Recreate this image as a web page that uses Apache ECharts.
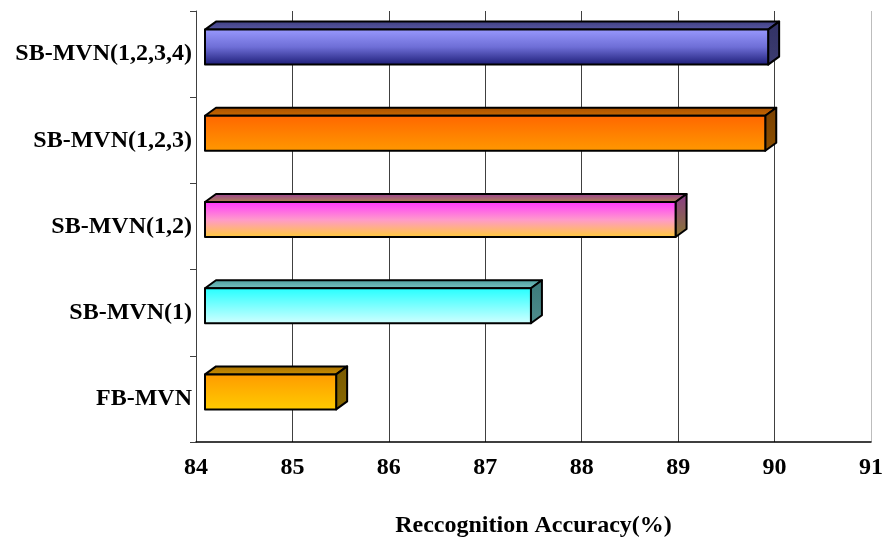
<!DOCTYPE html>
<html>
<head>
<meta charset="utf-8">
<style>
  html, body { margin: 0; padding: 0; background: #ffffff; }
  #chart { width: 886px; height: 543px; }
</style>
<script src="https://cdn.jsdelivr.net/npm/echarts@6/dist/echarts.min.js"></script>
</head>
<body>
<div id="chart"></div>
<script>
// Methods, listed from bottom to top of the chart
const categories = ['FB-MVN', 'SB-MVN(1)', 'SB-MVN(1,2)', 'SB-MVN(1,2,3)', 'SB-MVN(1,2,3,4)'];
// Recognition accuracy (%) for each method
const accuracy = [85.36, 87.38, 88.88, 89.81, 89.84];
// Value axis range and ticks
const axisMin = 84;
const axisMax = 91;
const axisStep = 1;

// Shading for each box: front face gradient, top face, side face
const palettes = [
  { front: ['#ff9a00', '#ffcc00'], top: ['#a87000', '#cc8f00'], side: ['#7a5a00', '#8a6a00'] },
  { front: ['#22ffff', '#d4ffff'], top: ['#4a9c9c', '#7cc4c4'], side: ['#3a7a7a', '#4f8c8c'] },
  { front: ['#ff33ff', '#ff99cc', '#ffcc33'], top: ['#9a3a9a', '#b08a4a'], side: ['#8a3a8a', '#8a7a30'] },
  { front: ['#ff6600', '#ff9900'], top: ['#a85000', '#c86a00'], side: ['#7a4000', '#8c5000'] },
  { front: ['#9a9aff', '#6e6ed6', '#1a1a74'], top: ['#3e3e80', '#5a5aa6'], side: ['#323266', '#3c3c70'] }
];

function grad(colors) {
  const stops = colors.map((c, i) => ({ offset: colors.length === 1 ? 0 : i / (colors.length - 1), color: c }));
  return new echarts.graphic.LinearGradient(0, 0, 0, 1, stops);
}

// 3D projection of the boxes
const SHIFT_X = 9;     // front face offset from the wall
const RAISE = 7;       // front face raised above the band centre
const HALF_H = 17.5;   // half height of the front face
const DEPTH_X = 11;
const DEPTH_Y = -8;

function renderBox(params, api) {
  const idx = api.value(0);
  const val = api.value(1);
  const start = api.coord([axisMin, idx]);
  const end = api.coord([val, idx]);
  const x0 = start[0] + SHIFT_X;
  const x1 = end[0] + SHIFT_X;
  const cy = start[1] - RAISE;
  const y0 = cy - HALF_H;
  const y1 = cy + HALF_H;
  const pal = palettes[idx];
  const stroke = { stroke: '#000000', lineWidth: 2, lineJoin: 'round' };
  return {
    type: 'group',
    children: [
      {
        type: 'polygon',
        shape: { points: [[x0, y0], [x0 + DEPTH_X, y0 + DEPTH_Y], [x1 + DEPTH_X, y0 + DEPTH_Y], [x1, y0]] },
        style: Object.assign({ fill: grad(pal.top) }, stroke)
      },
      {
        type: 'polygon',
        shape: { points: [[x1, y0], [x1 + DEPTH_X, y0 + DEPTH_Y], [x1 + DEPTH_X, y1 + DEPTH_Y], [x1, y1]] },
        style: Object.assign({ fill: grad(pal.side) }, stroke)
      },
      {
        type: 'rect',
        shape: { x: x0, y: y0, width: x1 - x0, height: y1 - y0 },
        style: Object.assign({ fill: grad(pal.front) }, stroke)
      }
    ]
  };
}

const chart = echarts.init(document.getElementById('chart'), null, { renderer: 'canvas' });
const serif = '"Liberation Serif", "Times New Roman", serif';

chart.setOption({
  animation: false,
  backgroundColor: '#ffffff',
  grid: { left: 196, right: 12.5, top: 11, bottom: 101, containLabel: false },
  xAxis: {
    type: 'value',
    min: axisMin,
    max: axisMax,
    interval: axisStep,
    axisLine: { show: true, lineStyle: { color: '#000000', width: 1.5 } },
    axisTick: { show: false },
    axisLabel: {
      margin: 14,
      color: '#000000',
      fontFamily: serif,
      fontWeight: 'bold',
      fontSize: 24
    },
    splitLine: {
      show: true,
      lineStyle: {
        color: ['#404040', '#404040', '#404040', '#404040', '#404040', '#404040', '#404040', '#bdbdbd'],
        width: 1
      }
    },
    name: 'Reccognition Accuracy(%)',
    nameLocation: 'middle',
    nameGap: 72,
    nameTextStyle: {
      color: '#000000',
      fontFamily: serif,
      fontWeight: 'bold',
      fontSize: 24
    }
  },
  yAxis: {
    type: 'category',
    data: categories,
    axisLine: { show: true, lineStyle: { color: '#404040', width: 1 } },
    axisTick: { show: true, length: 6, lineStyle: { color: '#404040', width: 1 } },
    axisLabel: {
      margin: 4,
      color: '#000000',
      fontFamily: serif,
      fontWeight: 'bold',
      fontSize: 24
    },
    splitLine: { show: false }
  },
  series: [{
    type: 'custom',
    renderItem: renderBox,
    encode: { x: 1, y: 0 },
    clip: false,
    data: accuracy.map((v, i) => [i, v])
  }]
});
</script>
</body>
</html>
